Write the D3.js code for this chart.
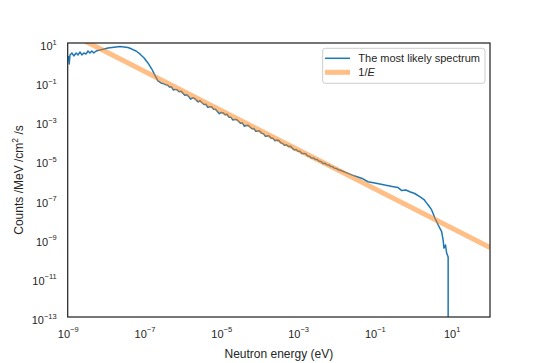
<!DOCTYPE html>
<html>
<head>
<meta charset="utf-8">
<script src="https://cdn.jsdelivr.net/npm/d3@7"></script>
<style>
  body { margin: 0; background: #fff; }
  svg { font-family: "Liberation Sans", Arial, sans-serif; }
</style>
</head>
<body>
<div id="chart"></div>
<script>
// spectrum, stored as log10 values (energy in eV, counts /MeV /cm2 /s)
const spectrumLogE = [
  -8.98, -8.96, -8.94, -8.89, -8.84, -8.78, -8.73, -8.68, -8.63, -8.58, -8.52, -8.47, -8.42, -8.37, -8.32, -8.26,
  -8.16, -8.05, -7.95, -7.85, -7.74, -7.64, -7.53, -7.43, -7.33, -7.22, -7.12, -7.01, -6.91, -6.81, -6.73, -6.65,
  -6.57, -6.49,
  -6.45, -6.40, -6.35, -6.30, -6.25, -6.20, -6.15, -6.10, -6.05, -6.00,
  -5.95, -5.90, -5.85, -5.80, -5.75, -5.70, -5.65, -5.60, -5.55, -5.50,
  -5.45, -5.40, -5.35, -5.30, -5.25, -5.20, -5.15, -5.10, -5.05, -5.00,
  -4.95, -4.90, -4.85, -4.80, -4.75, -4.70, -4.65, -4.60, -4.55, -4.50,
  -4.45, -4.40, -4.35, -4.30, -4.25, -4.20, -4.15, -4.10, -4.05, -4.00,
  -3.95, -3.90, -3.85, -3.80, -3.75, -3.70, -3.65, -3.60, -3.55, -3.50,
  -3.45, -3.40, -3.35, -3.30, -3.25, -3.20, -3.15, -3.10, -3.05, -3.00,
  -2.95, -2.90, -2.85, -2.80, -2.75, -2.70, -2.65, -2.60, -2.55, -2.50,
  -2.45, -2.40, -2.35, -2.30, -2.25, -2.20, -2.15, -2.10, -2.05, -2.00, -1.95, -1.90,
  -1.70, -1.52, -1.33, -1.18, -1.00, -0.74, -0.55, -0.40, -0.30, -0.19, -0.09, 0.04, 0.17, 0.28, 0.35, 0.41,
  0.48, 0.565, 0.651, 0.74, 0.78, 0.80, 0.84, 0.87, 0.91, 0.91
];
const spectrumLogFlux = [
  0.34, -0.07, 0.39, 0.49, 0.34, 0.49, 0.39, 0.54, 0.39, 0.49, 0.44, 0.59, 0.49, 0.59, 0.49, 0.59,
  0.64, 0.69, 0.74, 0.77, 0.80, 0.82, 0.80, 0.77, 0.69, 0.59, 0.44, 0.23, -0.02, -0.33, -0.64, -0.94,
  -1.04, -1.09,
  -1.13, -1.15, -1.25, -1.23, -1.40, -1.37, -1.39, -1.49, -1.46, -1.56,
  -1.67, -1.64, -1.73, -1.87, -1.80, -1.82, -1.92, -2.01, -1.95, -2.05,
  -2.14, -2.13, -2.29, -2.26, -2.26, -2.38, -2.39, -2.50, -2.61, -2.55,
  -2.57, -2.67, -2.64, -2.79, -2.79, -2.93, -2.91, -2.91, -3.00, -3.10,
  -3.08, -3.25, -3.22, -3.20, -3.29, -3.38, -3.37, -3.51, -3.50, -3.49,
  -3.61, -3.63, -3.77, -3.74, -3.75, -3.87, -3.87, -3.99, -3.96, -3.98,
  -4.10, -4.13, -4.23, -4.20, -4.29, -4.27, -4.37, -4.46, -4.44, -4.53,
  -4.53, -4.64, -4.65, -4.66, -4.77, -4.79, -4.88, -4.87, -4.95, -4.95,
  -5.04, -5.06, -5.16, -5.14, -5.22, -5.23, -5.31, -5.32, -5.40, -5.41, -5.48, -5.50,
  -5.66, -5.80, -5.92, -6.09, -6.15, -6.26, -6.33, -6.38, -6.54, -6.51, -6.60, -6.69, -6.85, -7.00, -7.18, -7.33,
  -7.53, -7.94, -8.30, -8.64, -9.07, -9.48, -9.32, -9.73, -9.94, -16
];

// 1/E reference line, end points
const invE_E = [1e-9, 1e2];
const invE_flux = [35.5, 3.55e-10];

const xTicks = [1e-9, 1e-7, 1e-5, 1e-3, 1e-1, 1e1];
const yTicks = [1e1, 1e-1, 1e-3, 1e-5, 1e-7, 1e-9, 1e-11, 1e-13];

const W = 545, H = 363;
const pLeft = 67.7, pTop = 43, pRight = 490, pBottom = 317;
const ink = '#262626';

const svg = d3.select('#chart').append('svg').attr('width', W).attr('height', H);

const x = d3.scaleLog().domain([1e-9, 1e2]).range([pLeft, pRight]);
const y = d3.scaleLog().domain([1e-13, 1e1]).range([pBottom, pTop]);

svg.append('clipPath').attr('id', 'plot-clip')
  .append('rect').attr('x', pLeft).attr('y', pTop).attr('width', pRight - pLeft).attr('height', pBottom - pTop);

const spectrum = spectrumLogE.map((e, i) => [Math.pow(10, e), Math.pow(10, spectrumLogFlux[i])]);
const invE = invE_E.map((e, i) => [e, invE_flux[i]]);

const line = d3.line().x(d => x(d[0])).y(d => y(d[1]));
const plot = svg.append('g').attr('clip-path', 'url(#plot-clip)');

plot.append('path').datum(spectrum).attr('d', line)
  .attr('fill', 'none').attr('stroke', '#1f77b4').attr('stroke-width', 1.5).attr('stroke-linejoin', 'round');
plot.append('path').datum(invE).attr('d', line)
  .attr('fill', 'none').attr('stroke', '#ff7f0e').attr('stroke-opacity', 0.5).attr('stroke-width', 5);

// axes without tick marks, labels as 10^n
function sup(sel) {
  sel.each(function(d) {
    const t = d3.select(this).text('');
    t.append('tspan').text('10');
    t.append('tspan').attr('font-size', 7.5).attr('dy', -5.5).text(String(Math.round(Math.log10(d))).replace('-', '\u2212'));
  });
}

const gx = svg.append('g').attr('transform', `translate(0,${pBottom})`)
  .call(d3.axisBottom(x).tickValues(xTicks).tickSize(0).tickFormat(''));
gx.select('.domain').remove();
gx.selectAll('.tick text').remove();
gx.selectAll('.tick').append('text')
  .attr('y', 20.5).attr('text-anchor', 'middle').attr('fill', ink).attr('font-size', 11)
  .call(sup);

const gy = svg.append('g').attr('transform', `translate(${pLeft},0)`)
  .call(d3.axisLeft(y).tickValues(yTicks).tickSize(0).tickFormat(''));
gy.select('.domain').remove();
gy.selectAll('.tick text').remove();
gy.selectAll('.tick').append('text')
  .attr('x', -11).attr('y', 6.5).attr('text-anchor', 'end').attr('fill', ink).attr('font-size', 11)
  .call(sup);

svg.append('rect').attr('x', pLeft).attr('y', pTop).attr('width', pRight - pLeft).attr('height', pBottom - pTop)
  .attr('fill', 'none').attr('stroke', ink).attr('stroke-width', 1.25);

// axis titles
svg.append('text').attr('x', (pLeft + pRight) / 2).attr('y', 357.5).attr('text-anchor', 'middle')
  .attr('fill', ink).attr('font-size', 12).text('Neutron energy (eV)');

const yl = svg.append('text').attr('transform', `translate(22.5,${(pTop + pBottom) / 2}) rotate(-90)`)
  .attr('text-anchor', 'middle').attr('fill', ink).attr('font-size', 12);
yl.append('tspan').text('Counts /MeV /cm');
yl.append('tspan').attr('font-size', 8.5).attr('dy', -5).text('2');
yl.append('tspan').attr('dy', 5).text(' /s');

// legend
const lg = svg.append('g');
lg.append('rect').attr('x', 322.7).attr('y', 48.3).attr('width', 162.3).attr('height', 35).attr('rx', 2.5)
  .attr('fill', '#fff').attr('fill-opacity', 0.8).attr('stroke', '#cccccc').attr('stroke-width', 1);
lg.append('line').attr('x1', 325).attr('x2', 350).attr('y1', 58.3).attr('y2', 58.3)
  .attr('stroke', '#1f77b4').attr('stroke-width', 1.5);
lg.append('line').attr('x1', 325).attr('x2', 350).attr('y1', 72.3).attr('y2', 72.3)
  .attr('stroke', '#ff7f0e').attr('stroke-opacity', 0.5).attr('stroke-width', 5);
lg.append('text').attr('x', 358.3).attr('y', 62.2).attr('fill', ink).attr('font-size', 11)
  .text('The most likely spectrum');
const le = lg.append('text').attr('x', 358.3).attr('y', 76.2).attr('fill', ink).attr('font-size', 11);
le.append('tspan').text('1/');
le.append('tspan').attr('font-style', 'italic').text('E');
</script>
</body>
</html>
